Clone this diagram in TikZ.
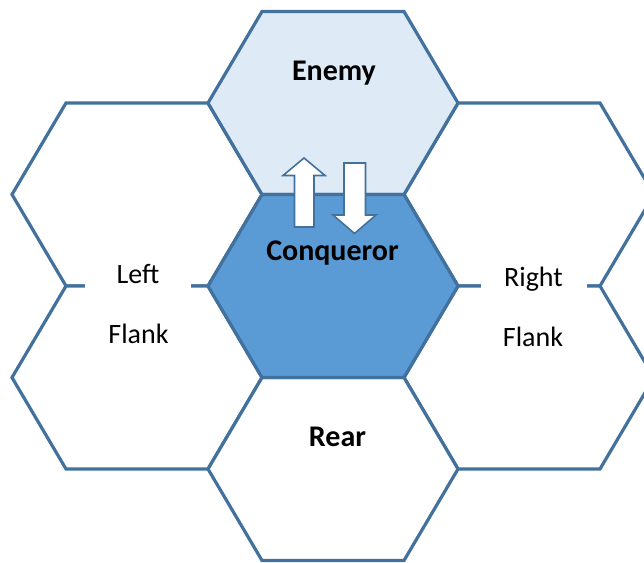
\documentclass[tikz,border=0pt]{standalone}
\usepackage{fontspec}
\setmainfont{Carlito}
\definecolor{hexline}{HTML}{41719C}
\definecolor{enemyfill}{HTML}{DEEBF7}
\definecolor{conqfill}{HTML}{5B9BD5}
\tikzset{
  hexbox/.style={draw=hexline, line width=3.2pt, line join=miter},
  arrowbox/.style={draw=hexline, fill=white, line width=1.6pt, line join=miter},
  bigbold/.style={font=\fontsize{30}{32}\selectfont\bfseries, anchor=base, inner sep=0pt},
  plain/.style={font=\fontsize{28}{30}\selectfont, anchor=base, inner sep=0pt},
  gapbox/.style={plain, fill=white, minimum width=106pt, text height=20pt, text depth=8pt}
}
\newcommand\hexshape{(-125,0) -- (-71,-91.5) -- (71,-91.5) -- (125,0) -- (71,91.5) -- (-71,91.5) -- cycle}
\begin{document}
\begin{tikzpicture}[x=1pt,y=-1pt]
\useasboundingbox (0,0) rectangle (644,562);
\clip (0,0) rectangle (644,562);
% white side hexes
\draw[hexbox, fill=white, shift={(137,194.5)}] \hexshape;
\draw[hexbox, fill=white, shift={(137,377.5)}] \hexshape;
\draw[hexbox, fill=white, shift={(529,194.5)}] \hexshape;
\draw[hexbox, fill=white, shift={(529,377.5)}] \hexshape;
\draw[hexbox, fill=white, shift={(333,469)}] \hexshape;
% enemy and conqueror
\draw[hexbox, fill=enemyfill, shift={(333,103)}] \hexshape;
\draw[hexbox, fill=conqfill, shift={(333,286)}] \hexshape;
% arrows
\draw[arrowbox] (304,158) -- (325,175.5) -- (314,175.5) -- (314,227) -- (294.5,227) -- (294.5,175.5) -- (283,175.5) -- cycle;
\draw[arrowbox] (344,163) -- (365.5,163) -- (365.5,215) -- (376,215) -- (354.5,233.5) -- (333,215) -- (344,215) -- cycle;
% labels
\node[bigbold] (enemy) at (334,80) {Enemy};
\node[bigbold] (conq) at (332.5,260) {Conqueror};
\node[bigbold] (rear) at (337.5,446.5) {Rear};
\node[gapbox] (leftA) at (138,283) {Left};
\node[plain] (leftB) at (138.5,343) {Flank};
\node[gapbox] (rightA) at (533.5,286.3) {Right};
\node[plain] (rightB) at (533,346.3) {Flank};
\end{tikzpicture}
\end{document}
